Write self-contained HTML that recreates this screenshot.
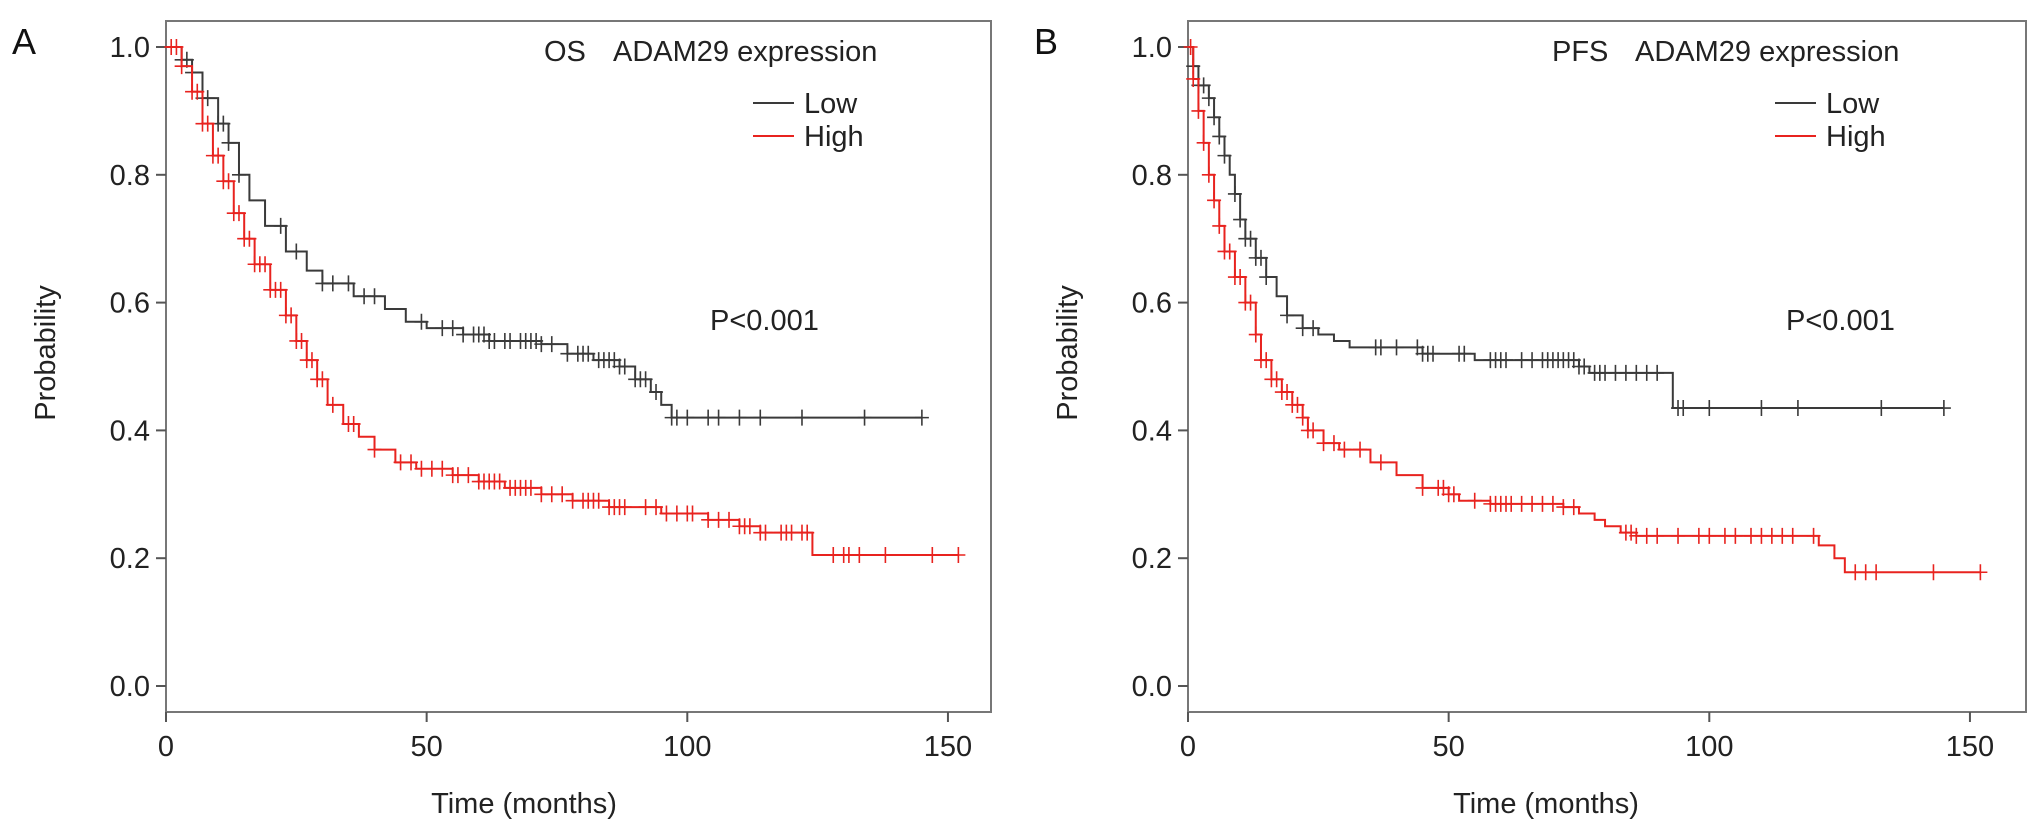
<!DOCTYPE html>
<html><head><meta charset="utf-8">
<style>
html,body{margin:0;padding:0;background:#fff;}
svg{display:block;font-family:"Liberation Sans",sans-serif;}
</style></head>
<body>
<svg id="chart" width="2032" height="833" viewBox="0 0 2032 833" xmlns="http://www.w3.org/2000/svg"></svg>
<script>
const xTicks = [0, 50, 100, 150];
const yTicks = [0.0, 0.2, 0.4, 0.6, 0.8, 1.0];
const legendLabels = ["Low", "High"];

const aLowT = [0,3,5,7,10,12,14,16,19,23,27,30,36,42,46,50,57,62,72,77,82,87,90,93,95,97,145];
const aLowS = [1.0,0.98,0.96,0.92,0.88,0.85,0.80,0.76,0.72,0.68,0.65,0.63,0.61,0.59,0.57,0.56,0.55,0.54,0.535,0.52,0.51,0.50,0.48,0.46,0.44,0.42,0.42];
const aLowC = [3,4,5,7,8,10,11,12,14,22,25,30,32,35,38,40,49,53,55,57,59,60,61,62,63,65,66,68,69,70,71,72,74,77,79,80,81,83,84,85,86,87,88,90,91,92,94,97,98,100,104,106,110,114,122,134,145];
const aHighT = [0,3,5,7,9,11,13,15,17,20,23,25,27,29,31,34,37,40,44,48,55,60,65,72,78,85,95,104,110,114,124,152];
const aHighS = [1.0,0.97,0.93,0.88,0.83,0.79,0.74,0.70,0.66,0.62,0.58,0.54,0.51,0.48,0.44,0.41,0.39,0.37,0.35,0.34,0.33,0.32,0.31,0.30,0.29,0.28,0.27,0.26,0.25,0.24,0.205,0.205];
const aHighC = [1,2,3,5,6,7,8,9,10,11,12,13,14,15,16,17,18,19,20,21,22,23,24,25,26,27,28,29,30,32,35,36,40,45,47,49,51,53,55,56,58,60,61,62,63,64,66,67,68,69,70,72,74,76,78,80,81,82,83,85,86,87,88,92,94,96,98,100,101,104,106,108,110,111,112,114,115,118,119,120,122,123,128,130,131,133,138,147,152];

const bLowT = [0,1,2,4,5,6,7,8,9,10,11,13,15,17,19,22,25,28,31,45,55,75,77,93,145];
const bLowS = [1.0,0.97,0.94,0.92,0.89,0.86,0.83,0.80,0.77,0.73,0.70,0.67,0.64,0.61,0.58,0.56,0.55,0.54,0.53,0.52,0.51,0.50,0.49,0.435,0.435];
const bLowC = [1,2,3,4,5,6,7,9,10,11,12,13,14,15,19,22,24,36,37,40,44,45,46,47,52,53,58,59,60,61,64,66,68,69,70,71,72,73,74,75,76,78,79,80,82,84,86,88,90,94,95,100,110,117,133,145];
const bHighT = [0,1,2,3,4,5,6,7,9,11,13,14,16,18,20,22,23,26,29,35,40,45,50,52,58,72,75,78,80,83,86,121,124,126,152];
const bHighS = [1.0,0.95,0.90,0.85,0.80,0.76,0.72,0.68,0.64,0.60,0.55,0.51,0.48,0.46,0.44,0.42,0.40,0.38,0.37,0.35,0.33,0.31,0.30,0.29,0.285,0.28,0.27,0.26,0.25,0.24,0.235,0.22,0.20,0.178,0.178];
const bHighC = [0.5,1,2,3,4,5,6,7,8,9,10,11,12,13,14,15,16,17,18,19,20,21,22,23,24,26,28,30,33,37,45,48,49,50,51,55,58,59,60,61,62,64,66,68,70,72,74,84,85,86,88,90,94,98,100,103,105,108,110,112,114,116,120,128,130,132,143,152];

const NS = "http://www.w3.org/2000/svg";
const svg = document.getElementById("chart");
function mk(tag, attrs, parent) {
  const e = document.createElementNS(NS, tag);
  for (const k in attrs) e.setAttribute(k, attrs[k]);
  (parent || svg).appendChild(e);
  return e;
}
const RED = "#e8231f", BLK = "#3a3a3a";

function stepAt(T, S, t) {
  let s = S[0];
  for (let i = 0; i < T.length; i++) { if (T[i] <= t) s = S[i]; else break; }
  return s;
}

function panel(cfg) {
  const g = mk("g", {});
  
  
  const x = v => cfg.x0 + v * 5.213;
  const y = v => 686 - v * 639;
  const box = mk("rect", {x: cfg.x0, y: 21, width: cfg.right - cfg.x0, height: 691, fill: "none", stroke: "#777", "stroke-width": 2}, g);
  
  
  yTicks.forEach(v => {
    mk("line", {x1: cfg.x0 - 10, x2: cfg.x0, y1: y(v), y2: y(v), stroke: "#555", "stroke-width": 2}, g);
    const t = mk("text", {x: cfg.x0 - 16, y: y(v) + 10, "text-anchor": "end", "font-size": 29, fill: "#222"}, g);
    t.textContent = v.toFixed(1);
    
    
  });
  xTicks.forEach(v => {
    mk("line", {x1: x(v), x2: x(v), y1: 712, y2: 722, stroke: "#555", "stroke-width": 2}, g);
    const t = mk("text", {x: x(v), y: 756, "text-anchor": "middle", "font-size": 29, fill: "#222"}, g);
    t.textContent = v;
    
    
  });
  const xt = mk("text", {x: cfg.x0 + 358, y: 813, "text-anchor": "middle", "font-size": 29, fill: "#222"}, g);
  xt.textContent = "Time (months)";
  
  
  const yt = mk("text", {x: 0, y: 0, "text-anchor": "middle", "font-size": 29, fill: "#222", transform: `translate(${cfg.x0 - 111},353) rotate(-90)`}, g);
  yt.textContent = "Probability";
  
  
  const lab = mk("text", {x: cfg.x0 - 154, y: 54, "font-size": 36, fill: "#111"}, g);
  lab.textContent = cfg.letter;
  
  
  const ep = mk("text", {x: cfg.epX, y: 61, "font-size": 29, fill: "#222"}, g);
  ep.textContent = cfg.endpoint;
  
  
  const lt = mk("text", {x: cfg.x0 + 447, y: 61, "font-size": 29, fill: "#222"}, g);
  lt.textContent = "ADAM29 expression";
  
  
  [BLK, RED].forEach((c, i) => {
    const ly = 103 + i * 33;
    const l = mk("line", {x1: cfg.x0 + 587, x2: cfg.x0 + 628, y1: ly, y2: ly, stroke: c, "stroke-width": 2}, g);
    
    
    const tx = mk("text", {x: cfg.x0 + 638, y: ly + 10, "font-size": 29, fill: "#222"}, g);
    tx.textContent = legendLabels[i];
    
    
  });
  const p = mk("text", {x: cfg.x0 + cfg.pOff, y: 330, "font-size": 29, fill: "#222"}, g);
  p.textContent = "P<0.001";
  
  
  cfg.series.forEach(s => {
    let d = `M${x(s.T[0])},${y(s.S[0])}`;
    for (let i = 1; i < s.T.length; i++) {
      d += ` H${x(s.T[i])} V${y(s.S[i])}`;
    }
    const path = mk("path", {d, fill: "none", stroke: s.c, "stroke-width": 2}, g);
    
    
    s.C.forEach(t => {
      const v = stepAt(s.T, s.S, t);
      const m = mk("path", {d: `M${x(t)},${y(v) - 8}V${y(v) + 8}M${x(t) - 7},${y(v)}H${x(t) + 7}`, stroke: s.c, "stroke-width": 1.6}, g);
      
      
    });
  });
}

panel({name: "panel-a-os", letter: "A", endpoint: "OS", x0: 166, right: 991, epX: 544, pOff: 544,
  series: [{name: "low", T: aLowT, S: aLowS, C: aLowC, c: BLK}, {name: "high", T: aHighT, S: aHighS, C: aHighC, c: RED}]});
panel({name: "panel-b-pfs", letter: "B", endpoint: "PFS", x0: 1188, right: 2026, epX: 1552, pOff: 598,
  series: [{name: "low", T: bLowT, S: bLowS, C: bLowC, c: BLK}, {name: "high", T: bHighT, S: bHighS, C: bHighC, c: RED}]});
</script>
</body></html>
